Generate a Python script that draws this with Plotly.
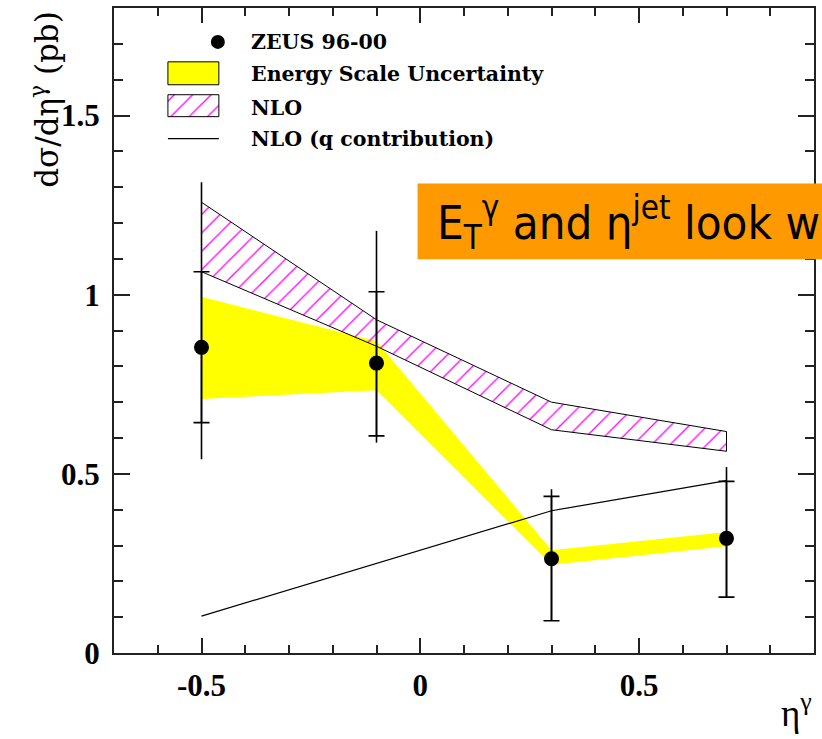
import plotly.graph_objects as go

# Prompt-photon cross section d(sigma)/d(eta^gamma), ZEUS 96-00
eta = [-0.5, -0.1, 0.3, 0.7]
xsec = [0.853, 0.809, 0.263, 0.320]
stat_hi = [1.064, 1.008, 0.437, 0.479]
stat_lo = [0.643, 0.606, 0.090, 0.156]
tot_hi = [1.314, 1.178, 0.457, 0.519]
tot_lo = [0.541, 0.587, 0.090, 0.156]

# energy-scale uncertainty band
escale_hi = [0.994, 0.870, 0.287, 0.338]
escale_lo = [0.709, 0.733, 0.246, 0.298]

# NLO prediction band and its quark-initiated part
nlo_hi = [1.258, 0.930, 0.700, 0.618]
nlo_lo = [1.064, 0.856, 0.623, 0.563]
nlo_q = [0.103, 0.250, 0.397, 0.481]

x_ticks = [-0.5, 0, 0.5]
x_ticktext = ["-0.5", "0", "0.5"]
y_ticks = [0, 0.5, 1, 1.5]
y_ticktext = ["0", "0.5", "1", "1.5"]

key_labels = ["ZEUS 96-00", "Energy Scale Uncertainty", "NLO", "NLO (q contribution)"]
banner_text = "E<sub>T</sub><sup>γ</sup> and η<sup>jet</sup> look w"

# page geometry (pixels)
W, H = 822, 739
L, R, T, B = 114, 7, 6, 86
PW, PH = W - L - R, H - T - B


def fx(px):
    return (px - L) / PW


def fy(py):
    return (H - B - py) / PH


YELLOW = "#ffff00"
MAGENTA = "#ff00ff"
hatch = dict(shape="/", fgcolor=MAGENTA, bgcolor="rgba(0,0,0,0)",
             size=13, solidity=0.1, fillmode="replace")

fig = go.Figure()

# energy-scale band
fig.add_trace(go.Scatter(
    x=eta + eta[::-1], y=escale_hi + escale_lo[::-1],
    mode="lines", fill="toself", fillcolor=YELLOW,
    line=dict(width=0, color=YELLOW), hoverinfo="skip", showlegend=False))

# NLO band (hatched, outlined)
fig.add_trace(go.Scatter(
    x=eta + eta[::-1] + [eta[0]], y=nlo_hi + nlo_lo[::-1] + [nlo_hi[0]],
    mode="lines", fill="toself", fillcolor="rgba(0,0,0,0)", fillpattern=hatch,
    line=dict(width=1, color="black"), hoverinfo="skip", showlegend=False))

# NLO quark contribution
fig.add_trace(go.Scatter(
    x=eta, y=nlo_q, mode="lines", line=dict(width=1.2, color="black"),
    showlegend=False))

# total uncertainties (no caps)
fig.add_trace(go.Scatter(
    x=eta, y=xsec, mode="markers",
    marker=dict(size=1, color="rgba(0,0,0,0)"),
    error_y=dict(type="data", symmetric=False,
                 array=[h - v for h, v in zip(tot_hi, xsec)],
                 arrayminus=[v - l for l, v in zip(tot_lo, xsec)],
                 width=0, thickness=1.6, color="black"),
    showlegend=False))

# statistical uncertainties (capped) and data points
fig.add_trace(go.Scatter(
    x=eta, y=xsec, mode="markers",
    marker=dict(size=15, color="black"),
    error_y=dict(type="data", symmetric=False,
                 array=[h - v for h, v in zip(stat_hi, xsec)],
                 arrayminus=[v - l for l, v in zip(stat_lo, xsec)],
                 width=8, thickness=1.6, color="black"),
    showlegend=False))

# ---- key, drawn on an overlay axis spanning the plot area in fractions
KX0, KX1 = 168, 219
box_rows = [(60, 83), (93, 115)]

fig.add_trace(go.Scatter(
    x=[fx(218)], y=[fy(40)], xaxis="x2", yaxis="y2", mode="markers",
    marker=dict(size=14, color="black"), showlegend=False, hoverinfo="skip"))

(y0, y1) = box_rows[0]
fig.add_trace(go.Scatter(
    x=[fx(KX0), fx(KX1), fx(KX1), fx(KX0), fx(KX0)],
    y=[fy(y0), fy(y0), fy(y1), fy(y1), fy(y0)],
    xaxis="x2", yaxis="y2", mode="lines", fill="toself", fillcolor=YELLOW,
    line=dict(width=1, color="black"), showlegend=False, hoverinfo="skip"))

(y0, y1) = box_rows[1]
fig.add_trace(go.Scatter(
    x=[fx(KX0), fx(KX1), fx(KX1), fx(KX0), fx(KX0)],
    y=[fy(y0), fy(y0), fy(y1), fy(y1), fy(y0)],
    xaxis="x2", yaxis="y2", mode="lines", fill="toself",
    fillcolor="rgba(0,0,0,0)", fillpattern=hatch,
    line=dict(width=1, color="black"), showlegend=False, hoverinfo="skip"))

fig.add_trace(go.Scatter(
    x=[fx(KX0), fx(KX1)], y=[fy(137), fy(137)], xaxis="x2", yaxis="y2",
    mode="lines", line=dict(width=1.2, color="black"),
    showlegend=False, hoverinfo="skip"))

key_font = dict(family="DejaVu Serif", size=20.5, color="black", weight="bold")
for label, py in zip(key_labels, [40, 72, 106, 137]):
    fig.add_annotation(text=label, xref="paper", yref="paper",
                       x=fx(249), y=fy(py), xanchor="left", yanchor="middle",
                       showarrow=False, font=key_font)

# axis titles
fig.add_annotation(text="dσ/dη<sup>γ</sup> (pb)", xref="paper", yref="paper",
                   x=fx(45), y=fy(98), textangle=-90, showarrow=False,
                   xanchor="center", yanchor="middle",
                   font=dict(family="DejaVu Serif", size=31, color="black"))
fig.add_annotation(text="η<sup>γ</sup>", xref="paper", yref="paper",
                   x=fx(797), y=fy(711), showarrow=False,
                   xanchor="center", yanchor="middle",
                   font=dict(family="Liberation Serif", size=37, color="black"))

# orange banner
fig.add_shape(type="rect", xref="paper", yref="paper",
              x0=fx(418), x1=fx(840), y0=fy(258), y1=fy(182),
              fillcolor="#ff9900", line=dict(width=0), layer="above")
fig.add_annotation(text=banner_text, xref="paper", yref="paper",
                   x=fx(435), y=fy(221), xanchor="left", yanchor="middle",
                   showarrow=False,
                   font=dict(family="DejaVu Sans Condensed, DejaVu Sans",
                             size=47, color="black"))

tick_font = dict(family="Liberation Serif", size=31, color="black", weight="bold")
axis_common = dict(
    showline=True, linewidth=2, linecolor="#222", mirror="ticks",
    ticks="inside", tickwidth=1.5, tickcolor="#222", showgrid=False,
    zeroline=False, tickfont=tick_font, fixedrange=True)

fig.update_layout(
    width=W, height=H,
    margin=dict(l=L, r=R, t=T, b=B),
    paper_bgcolor="white", plot_bgcolor="white",
    showlegend=False,
    xaxis=dict(range=[-0.7, 0.9], tickvals=x_ticks, ticktext=x_ticktext,
               ticklen=15, ticklabelstandoff=4,
               minor=dict(dtick=0.1, tick0=0, ticklen=8, tickwidth=1.5,
                          ticks="inside", tickcolor="#222"),
               **axis_common),
    yaxis=dict(range=[0, 1.8], tickvals=y_ticks, ticktext=y_ticktext,
               ticklen=16, ticklabelstandoff=6,
               minor=dict(dtick=0.1, tick0=0, ticklen=9, tickwidth=1.5,
                          ticks="inside", tickcolor="#222"),
               **axis_common),
    xaxis2=dict(overlaying="x", range=[0, 1], visible=False, fixedrange=True),
    yaxis2=dict(overlaying="y", range=[0, 1], visible=False, fixedrange=True),
)

fig.write_html("out.html")
